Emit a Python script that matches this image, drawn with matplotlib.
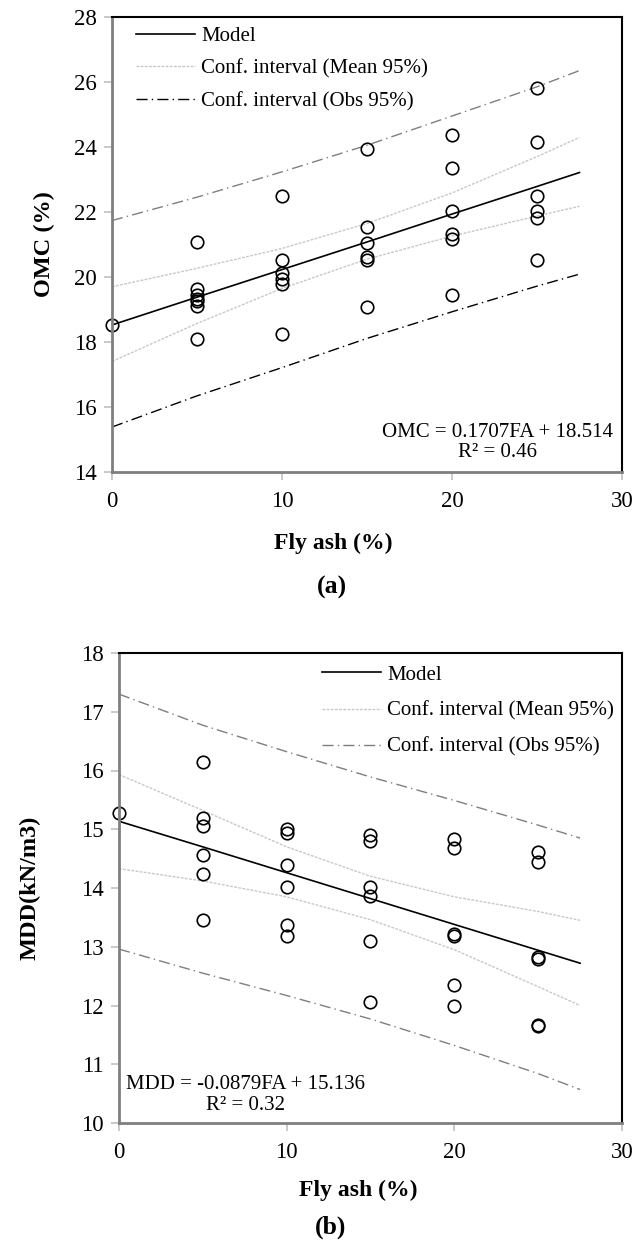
import matplotlib
matplotlib.use("Agg")
import matplotlib.pyplot as plt

plt.rcParams["font.family"] = ["Liberation Serif", "DejaVu Serif"]

# (a) OMC vs fly ash
omc_fa = [0, 5, 5, 5, 5, 5, 5, 5, 10, 10, 10, 10, 10, 10,
          15, 15, 15, 15, 15, 15, 20, 20, 20, 20, 20, 20, 25, 25, 25, 25, 25, 25]
omc = [18.52, 21.07, 19.61, 19.43, 19.24, 19.10, 18.08, 19.30,
       22.48, 20.53, 20.12, 19.92, 19.77, 18.25,
       23.93, 21.52, 21.04, 20.62, 20.51, 19.07,
       24.36, 23.34, 22.02, 21.33, 21.16, 19.43,
       25.80, 24.16, 22.50, 22.03, 21.80, 20.51]
line_fa = [0, 5, 10, 15, 20, 25, 27.5]
omc_model = [18.514, 19.37, 20.22, 21.07, 21.93, 22.78, 23.21]
omc_mean_hi = [19.69, 20.26, 20.87, 21.64, 22.58, 23.70, 24.29]
omc_mean_lo = [17.39, 18.56, 19.64, 20.54, 21.25, 21.87, 22.17]
omc_obs_hi = [21.73, 22.45, 23.23, 24.05, 24.95, 25.85, 26.35]
omc_obs_lo = [15.37, 16.33, 17.20, 18.10, 18.92, 19.71, 20.08]

# (b) MDD vs fly ash
mdd_fa = [0, 5, 5, 5, 5, 5, 5, 10, 10, 10, 10, 10, 10,
          15, 15, 15, 15, 15, 15, 20, 20, 20, 20, 20, 20, 25, 25, 25, 25, 25, 25]
mdd = [15.27, 16.14, 15.19, 15.06, 14.56, 14.23, 13.46,
       15.01, 14.93, 14.39, 14.01, 13.37, 13.19,
       14.90, 14.80, 14.01, 13.87, 13.09, 12.06,
       14.83, 14.68, 13.21, 13.19, 12.35, 12.00,
       14.61, 14.44, 12.82, 12.80, 11.67, 11.65]
mdd_model = [15.136, 14.70, 14.26, 13.82, 13.38, 12.94, 12.72]
mdd_mean_hi = [15.93, 15.32, 14.70, 14.20, 13.85, 13.60, 13.45]
mdd_mean_lo = [14.33, 14.12, 13.85, 13.46, 12.95, 12.32, 12.00]
mdd_obs_hi = [17.30, 16.77, 16.32, 15.89, 15.49, 15.07, 14.85]
mdd_obs_lo = [12.96, 12.55, 12.17, 11.77, 11.32, 10.84, 10.57]

GRID = "#7f7f7f"
LIGHT = "#c8c8c8"
DASHDOT = (0, (8, 3, 1, 3))
W, H = 635, 1240


def style_axes(ax, ylim, yticks):
    ax.set_xlim(0, 30)
    ax.set_ylim(*ylim)
    ax.set_xticks([0, 10, 20, 30])
    ax.set_yticks(yticks)
    for s in ("left", "bottom"):
        ax.spines[s].set_color(GRID)
        ax.spines[s].set_linewidth(2.0)
    for s in ("top", "right"):
        ax.spines[s].set_color("black")
        ax.spines[s].set_linewidth(1.5)
    ax.tick_params(direction="out", length=6, width=1.2, color="#c0c0c0", labelsize=16.5)
    ax.tick_params(axis="x", pad=8)
    ax.tick_params(axis="y", pad=5)


def px_text(x, y, s, **kw):
    fig.text(x / W, 1 - y / H, s, ha="center", va="center", fontweight="bold", **kw)


fig = plt.figure(figsize=(6.35, 12.4), dpi=100)

# ---- (a)
ax1 = fig.add_axes([112 / W, 1 - 471.5 / H, 510 / W, 454.5 / H])
ax1.plot(line_fa, omc_model, color="black", lw=1.2, label="Model")
ax1.plot(line_fa, omc_mean_hi, color=LIGHT, lw=1.0, ls=(0, (2, 1)), label="Conf. interval (Mean 95%)")
ax1.plot(line_fa, omc_mean_lo, color=LIGHT, lw=1.0, ls=(0, (2, 1)))
ax1.plot(line_fa, omc_obs_lo, color="black", lw=1.0, ls=DASHDOT, label="Conf. interval (Obs 95%)")
ax1.plot(line_fa, omc_obs_hi, color=GRID, lw=1.0, ls=DASHDOT)
ax1.plot(omc_fa, omc, "o", ms=9, mfc="none", mec="black", mew=1.2, clip_on=False)
style_axes(ax1, (14, 28), range(14, 29, 2))
ax1.set_ylabel("OMC (%)", fontsize=17.5, fontweight="bold")
ax1.yaxis.set_label_coords(-0.112, 0.5)
ax1.legend(loc="upper left", bbox_to_anchor=(0.010, 1.02), frameon=False, fontsize=15,
           handlelength=2.85, handletextpad=0.3, labelspacing=0.62)
ax1.text(0.755, 0.064, "OMC = 0.1707FA + 18.514\nR² = 0.46", transform=ax1.transAxes,
         ha="center", va="center", multialignment="center", fontsize=15, linespacing=1.12)
px_text(333, 543, "Fly ash (%)", fontsize=17)
px_text(332, 587, "(a)", fontsize=18.5)

# ---- (b)
ax2 = fig.add_axes([119 / W, 1 - 1123 / H, 503 / W, 470 / H])
ax2.plot(line_fa, mdd_model, color="black", lw=1.2, label="Model")
ax2.plot(line_fa, mdd_mean_hi, color=LIGHT, lw=1.0, ls=(0, (2, 1)), label="Conf. interval (Mean 95%)")
ax2.plot(line_fa, mdd_mean_lo, color=LIGHT, lw=1.0, ls=(0, (2, 1)))
ax2.plot(line_fa, mdd_obs_hi, color=GRID, lw=1.0, ls=DASHDOT, label="Conf. interval (Obs 95%)")
ax2.plot(line_fa, mdd_obs_lo, color=GRID, lw=1.0, ls=DASHDOT)
ax2.plot(mdd_fa, mdd, "o", ms=9, mfc="none", mec="black", mew=1.2, clip_on=False)
style_axes(ax2, (10, 18), range(10, 19))
ax2.set_ylabel("MDD(kN/m3)", fontsize=17.5, fontweight="bold")
ax2.yaxis.set_label_coords(-0.155, 0.5)
ax2.legend(loc="upper left", bbox_to_anchor=(0.366, 1.014), frameon=False, fontsize=15,
           handlelength=2.85, handletextpad=0.3, labelspacing=0.79)
ax2.text(0.252, 0.060, "MDD = -0.0879FA + 15.136\nR² = 0.32", transform=ax2.transAxes,
         ha="center", va="center", multialignment="center", fontsize=15, linespacing=1.15)
px_text(358, 1190, "Fly ash (%)", fontsize=17)
px_text(331, 1227, "(b)", fontsize=18.5)

fig.savefig("out.png", dpi=100)
